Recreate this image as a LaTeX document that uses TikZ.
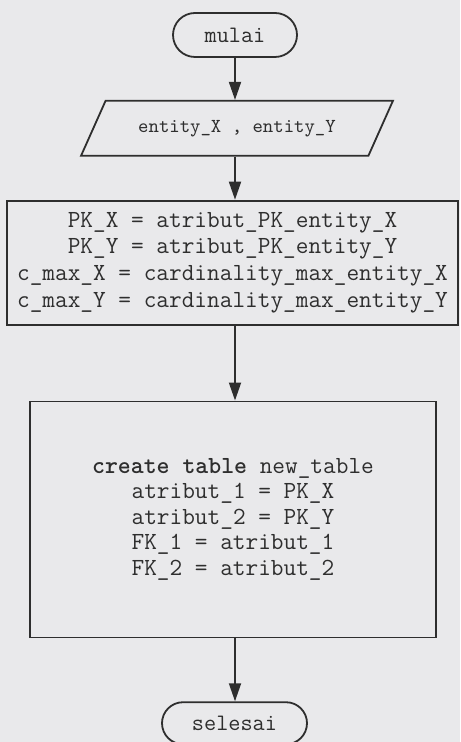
\documentclass[tikz,border=0pt]{standalone}
\usepackage{fontspec}
\usepackage{tikz}
\usetikzlibrary{shapes.geometric, shapes.misc, arrows.meta, positioning, backgrounds}
\definecolor{paper}{HTML}{E9E9EB}
\definecolor{ink}{HTML}{2E2E2E}

\begin{document}
\begin{tikzpicture}[
        x=1pt, y=1pt,
        terminal/.style={rounded rectangle, draw=ink, line width=0.9pt, minimum width=62pt, minimum height=22pt, inner sep=0pt, font=\ttfamily\fontsize{11.8}{13}\selectfont, text=ink},
        io/.style={trapezium, trapezium left angle=42, trapezium right angle=138, trapezium stretches=true, draw=ink, line width=0.9pt, minimum width=156pt, minimum height=27.5pt, inner sep=0pt, font=\ttfamily\fontsize{9.9}{11}\selectfont, text=ink},
        process/.style={rectangle, draw=ink, line width=0.9pt, align=center, font=\ttfamily\fontsize{12.3}{13.4}\selectfont, text=ink},
        flow/.style={-{Triangle[length=9pt, width=6pt]}, line width=0.9pt, draw=ink}
    ]
        \useasboundingbox (0,0) rectangle (230,-371);
        \fill[paper] (0,0) rectangle (230,-371);

        \node[terminal] (mulai) at (117.5,-17.5) {mulai};

        \node[io, below=21pt of mulai, xshift=1pt] (input) {entity\_X , entity\_Y};

        \node[process, below=21.5pt of input, xshift=-2.25pt, minimum width=225.5pt, minimum height=62pt] (assign) {
            PK\_X = atribut\_PK\_entity\_X\\
            PK\_Y = atribut\_PK\_entity\_Y\\
            c\_max\_X = cardinality\_max\_entity\_X\\
            c\_max\_Y = cardinality\_max\_entity\_Y
        };

        \node[process, below=37.5pt of assign, xshift=0.25pt, minimum width=203pt, minimum height=118pt, font=\ttfamily\fontsize{12.3}{12.75}\selectfont] (table) {
            \textbf{create table} new\_table\\
            atribut\_1 = PK\_X\\
            atribut\_2 = PK\_Y\\
            FK\_1 = atribut\_1\\
            FK\_2 = atribut\_2
        };

        \node[terminal, below=31.5pt of table, xshift=0.75pt, minimum width=72.5pt, minimum height=21pt] (selesai) {selesai};

        \draw[flow] (mulai.south) -- (mulai |- input.north);
        \draw[flow] (mulai |- input.south) -- (mulai |- assign.north);
        \draw[flow] (mulai |- assign.south) -- (mulai |- table.north);
        \draw[flow] (mulai |- table.south) -- (mulai |- selesai.north);
    \end{tikzpicture}
\end{document}
